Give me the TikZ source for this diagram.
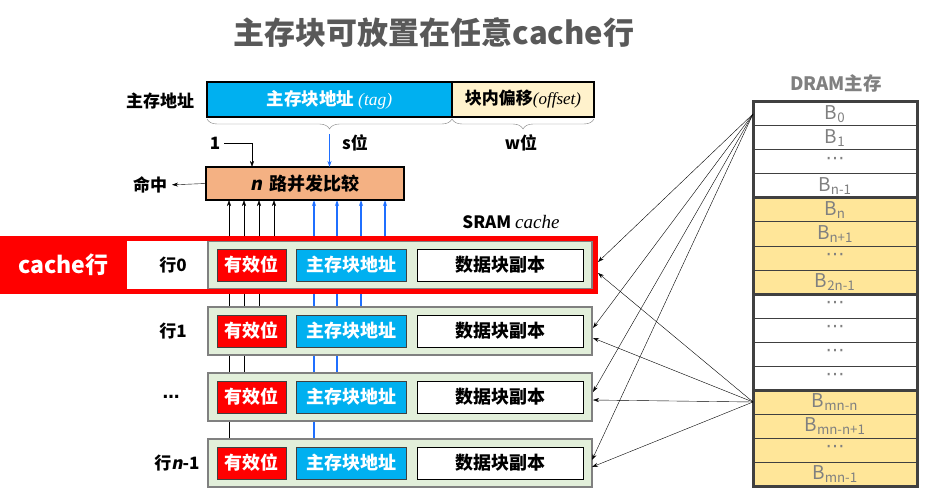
\documentclass[tikz,border=0pt]{standalone}
\usepackage{fontspec}
\setmainfont{Noto Sans CJK SC}
\newfontfamily\tagfont{Liberation Serif}
\newfontfamily\nfont{Noto Sans CJK SC}[FakeSlant=0.2]
\newfontfamily\dotfont{DejaVu Sans}
\usetikzlibrary{positioning,calc,arrows.meta,decorations.pathreplacing}
\pgfdeclarelayer{background}
\pgfsetlayers{background,main}

\definecolor{tagblue}{HTML}{00B0F0}
\definecolor{offyellow}{HTML}{FFF2CC}
\definecolor{cmporange}{HTML}{F4B183}
\definecolor{rowgreen}{HTML}{E2EFDA}
\definecolor{dramyellow}{HTML}{FFE699}
\definecolor{wireblue}{HTML}{1F6FFF}
\definecolor{titlegray}{HTML}{595959}
\definecolor{dramgray}{HTML}{808080}
\definecolor{edgegray}{HTML}{404040}

\tikzset{
  txt/.style={font=\bfseries\fontsize{17}{19}\selectfont, inner sep=0pt, outer sep=0pt},
  addrbox/.style={txt, draw, line width=2pt, minimum height=35pt},
  rowbox/.style={draw=gray, line width=1.2pt, fill=rowgreen, minimum width=384pt, minimum height=48pt, inner sep=0pt, outer sep=0pt},
  cellbox/.style={draw=edgegray, line width=1pt, minimum height=32pt, txt, font=\bfseries\fontsize{18}{20}\selectfont},
  brace/.style={decorate, decoration={brace, mirror, amplitude=10pt}, draw=gray, thin},
  bluewire/.style={->, wireblue, line width=1.5pt},
  memcell/.style={draw=edgegray, line width=1pt, minimum width=164pt, minimum height=24pt, inner sep=0pt, outer sep=0pt, text=dramgray, font=\fontsize{19}{21}\selectfont}
}

\begin{document}
\begin{tikzpicture}[x=1pt, y=-1pt, >={Stealth[length=6pt,width=4pt]}]
    \useasboundingbox (0,0) rectangle (926,497);

    % Title
    \node[txt, font=\bfseries\fontsize{31}{35}\selectfont, text=titlegray] (title) at (434,33) {主存块可放置在任意cache行};

    % Main memory address
    \node[txt] (addrlbl) at (160,101) {主存地址};
    \node[addrbox, fill=tagblue, text=white, minimum width=245pt, anchor=north west, font=\bfseries\fontsize{17.5}{19}\selectfont] (tag) at (207,82) {主存块地址 {\tagfont\itshape\mdseries (tag)}};
    \node[addrbox, fill=offyellow, minimum width=142pt, right=0pt of tag] (off) {块内偏移{\tagfont\itshape\mdseries(offset)}};
    \draw[brace] ([yshift=-2pt]tag.south west) -- ([yshift=-2pt]tag.south east);
    \draw[brace] ([yshift=-2pt]off.south west) -- ([yshift=-2pt]off.south east);
    \node[txt] (sbits) at (355,143) {s位};
    \node[txt] (wbits) at (521,143) {w位};

    % Comparator
    \node[addrbox, fill=cmporange, minimum width=198pt, minimum height=33pt, anchor=north west, font=\bfseries\fontsize{18}{20}\selectfont] (cmp) at (206,167) {{\nfont n}\, 路并发比较};
    \node[txt] (one) at (215,143) {1};
    \draw[->] ([xshift=4pt]one.east) -| ([xshift=46pt]cmp.north west);
    \coordinate (stip) at ([yshift=-17pt]tag.south);
    \draw[bluewire] (stip) -- (stip |- cmp.north);
    \node[txt] (hit) at (150,185) {命中};
    \draw[->, shorten >=5pt] (cmp.west) -- (hit.east);
    \node[txt] (sram) at (511,222) {SRAM {\tagfont\itshape\mdseries\fontsize{19}{21}\selectfont cache}};

    % Cache lines
    \node[txt, fill=red, text=white, minimum width=127pt, minimum height=58pt, anchor=north west, font=\bfseries\fontsize{23}{25}\selectfont] (cachelbl) at (0,236) {cache行};
    \foreach \i/\t/\lx/\lab in {0/241/173/行0, 1/307/173/行1, 2/373/171/{\dotfont …}, 3/439/177/{行{\nfont n}-1}} {
        \node[rowbox, anchor=north west] (row\i) at (208,\t) {};
        \node[cellbox, fill=red, text=white, minimum width=69pt, right=9pt of row\i.west] (v\i) {有效位};
        \node[cellbox, fill=tagblue, text=white, minimum width=110pt, right=10pt of v\i] (a\i) {主存块地址};
        \node[cellbox, fill=white, draw=black, minimum width=166pt, right=11pt of a\i] (d\i) {数据块副本};
        \node[txt] (lab\i) at (\lx,\t+24) {\lab};
    }

    % Wires into the comparator, behind the lines
    \begin{pgfonlayer}{background}
    \foreach \dx/\r in {23pt/3, 38pt/2, 53pt/1, 68pt/0} {
        \coordinate (bk) at ([xshift=\dx]cmp.south west);
        \draw[->] (bk |- row\r.north) -- (bk);
    }
    \foreach \dx/\r in {108pt/3, 131pt/2, 155pt/1, 179pt/0} {
        \coordinate (bw) at ([xshift=\dx]cmp.south west);
        \draw[bluewire] (bw |- row\r.north) -- (bw);
    }
    \end{pgfonlayer}
    \draw[red, line width=5pt] (2.5,238.5) rectangle (595.5,291.5);

    % DRAM main memory
    \node[txt, text=dramgray, font=\bfseries\fontsize{18.5}{20}\selectfont] (dramlbl) at (836,83) {DRAM主存};
    \foreach \i/\b/\c in {0/B\textsubscript{0}/white, 1/B\textsubscript{1}/white, 2/{\dotfont ⋯}/white, 3/B\textsubscript{n-1}/white,
        4/B\textsubscript{n}/dramyellow, 5/B\textsubscript{n+1}/dramyellow, 6/{\dotfont ⋯}/dramyellow, 7/B\textsubscript{2n-1}/dramyellow,
        8/{\dotfont ⋯}/white, 9/{\dotfont ⋯}/white, 10/{\dotfont ⋯}/white, 11/{\dotfont ⋯}/white,
        12/B\textsubscript{mn-n}/dramyellow, 13/B\textsubscript{mn-n+1}/dramyellow, 14/{\dotfont ⋯}/dramyellow, 15/B\textsubscript{mn-1}/dramyellow} {
        \node[memcell, fill=\c, anchor=north west] (m\i) at (753,102+24*\i) {\raisebox{3pt}{\b}};
    }
    \draw[edgegray, line width=3pt] (m0.north west) rectangle (m15.south east);
    \foreach \g in {3,7,11}
        \draw[edgegray, line width=3pt] (m\g.south west) -- (m\g.south east);

    % Mapping of blocks to cache lines
    \foreach \r/\sx/\up/\dn in {0/6pt/3pt/-8pt, 1/1pt/3pt/-7pt, 2/1pt/5pt/-3pt, 3/0pt/3pt/-4pt} {
        \draw[->] (m0.west) -- ([shift={(\sx,\up)}]row\r.east);
        \draw[->] (m12.west) -- ([shift={(\sx,\dn)}]row\r.east);
    }
\end{tikzpicture}
\end{document}
